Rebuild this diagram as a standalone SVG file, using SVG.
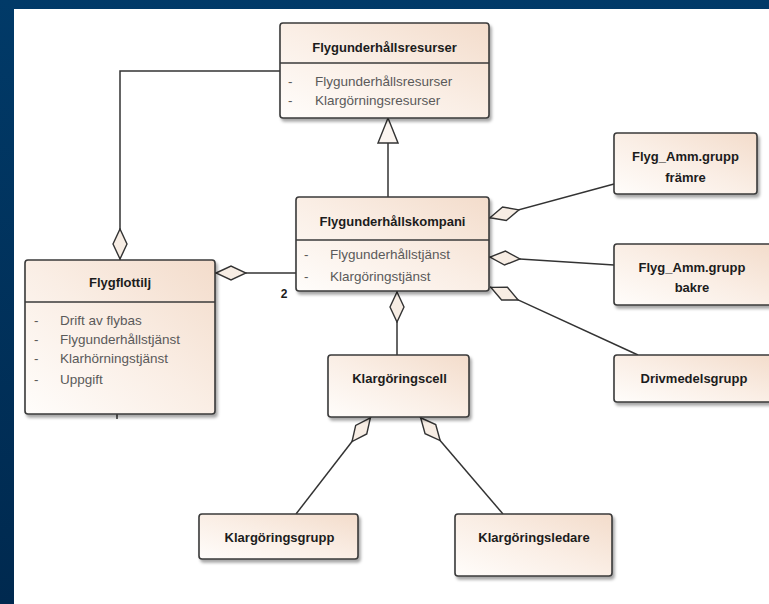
<svg xmlns="http://www.w3.org/2000/svg" width="769" height="604" viewBox="0 0 769 604">
<defs>
<linearGradient id="bg" x1="0" y1="0" x2="0" y2="1">
<stop offset="0" stop-color="#013a68"/>
<stop offset="1" stop-color="#00294f"/>
</linearGradient>
<linearGradient id="boxfill" x1="0" y1="1" x2="1" y2="0">
<stop offset="0" stop-color="#fffdfb"/>
<stop offset="0.5" stop-color="#faeee5"/>
<stop offset="1" stop-color="#f3dccb"/>
</linearGradient>
<filter id="shadow" x="-10%" y="-10%" width="130%" height="140%">
<feDropShadow dx="2" dy="3" stdDeviation="1.5" flood-color="#000" flood-opacity="0.35"/>
</filter>
<marker id="diamond" viewBox="0 0 32 16" refX="0" refY="8" markerWidth="32" markerHeight="16" markerUnits="userSpaceOnUse" orient="auto">
<path d="M1,8 L16,1 L31,8 L16,15 Z" fill="#f7ede4" stroke="#333" stroke-width="1.4"/>
</marker>
<marker id="triangle" viewBox="0 0 27 22" refX="26" refY="11" markerWidth="27" markerHeight="22" markerUnits="userSpaceOnUse" orient="auto">
<path d="M1,1 L26,11 L1,21 Z" fill="#fbf5f0" stroke="#333" stroke-width="1.4"/>
</marker>
<style>
.box{fill:url(#boxfill);stroke:#3a3a3a;stroke-width:1.6;filter:url(#shadow)}
.div{stroke:#3a3a3a;stroke-width:1.4}
.title{font-family:"Liberation Sans",Arial,sans-serif;font-size:13px;font-weight:bold;fill:#1c1c1c;text-anchor:middle}
.attr{font-family:"Liberation Sans",Arial,sans-serif;font-size:13.5px;fill:#5a5a5a}
.conn{fill:none;stroke:#333;stroke-width:1.5}
</style>
</defs>
<rect x="0" y="0" width="769" height="604" fill="url(#bg)"/>
<rect x="14" y="9" width="755" height="595" fill="#ffffff"/>

<g id="connectors">
<path class="conn" d="M120,260 L120,71 L280,71" marker-start="url(#diamond)"/>
<path class="conn" d="M388,197 L388,118" marker-end="url(#triangle)"/>
<path class="conn" d="M215,273 L296,273" marker-start="url(#diamond)"/>
<path class="conn" d="M489,218 L614,184" marker-start="url(#diamond)"/>
<path class="conn" d="M489,257 L614,265" marker-start="url(#diamond)"/>
<path class="conn" d="M490,287 L638,355" marker-start="url(#diamond)"/>
<path class="conn" d="M397,291 L397,355" marker-start="url(#diamond)"/>
<path class="conn" d="M371,417 L296,514" marker-start="url(#diamond)"/>
<path class="conn" d="M420,417 L503,514" marker-start="url(#diamond)"/>
<path class="conn" d="M117,414 L117,419" stroke-width="1"/>
<text x="284" y="298" class="title" style="font-size:12px">2</text>
</g>

<g id="flygunderhallsresurser">
<rect class="box" x="280" y="23" width="209" height="95" rx="3"/>
<line class="div" x1="280" y1="63" x2="489" y2="63"/>
<text class="title" x="384.5" y="52">Flygunderhållsresurser</text>
<text class="attr" x="288" y="86">-</text>
<text class="attr" x="315" y="86">Flygunderhållsresurser</text>
<text class="attr" x="288" y="105">-</text>
<text class="attr" x="315" y="105">Klargörningsresurser</text>
</g>

<g id="flygflottilj">
<rect class="box" x="25" y="260" width="190" height="154" rx="3"/>
<line class="div" x1="25" y1="302" x2="215" y2="302"/>
<text class="title" x="120" y="287">Flygflottilj</text>
<text class="attr" x="34" y="325">-</text>
<text class="attr" x="60" y="325">Drift av flybas</text>
<text class="attr" x="34" y="344">-</text>
<text class="attr" x="60" y="344">Flygunderhållstjänst</text>
<text class="attr" x="34" y="363">-</text>
<text class="attr" x="60" y="363">Klarhörningstjänst</text>
<text class="attr" x="34" y="384">-</text>
<text class="attr" x="60" y="384">Uppgift</text>
</g>

<g id="flygunderhallskompani">
<rect class="box" x="296" y="197" width="193" height="94" rx="3"/>
<line class="div" x1="296" y1="240" x2="489" y2="240"/>
<text class="title" x="392.5" y="226">Flygunderhållskompani</text>
<text class="attr" x="304" y="259">-</text>
<text class="attr" x="330" y="259">Flygunderhållstjänst</text>
<text class="attr" x="304" y="281">-</text>
<text class="attr" x="330" y="281">Klargöringstjänst</text>
</g>

<g id="flyg-amm-framre">
<rect class="box" x="614" y="133" width="143" height="61" rx="3"/>
<text class="title" x="685.5" y="161">Flyg_Amm.grupp</text>
<text class="title" x="685.5" y="182">främre</text>
</g>

<g id="flyg-amm-bakre">
<rect class="box" x="614" y="244" width="160" height="61" rx="3"/>
<text class="title" x="692" y="272">Flyg_Amm.grupp</text>
<text class="title" x="692" y="292">bakre</text>
</g>

<g id="drivmedelsgrupp">
<rect class="box" x="614" y="355" width="162" height="47" rx="3"/>
<text class="title" x="694" y="383">Drivmedelsgrupp</text>
</g>

<g id="klargoringscell">
<rect class="box" x="328" y="355" width="141" height="62" rx="3"/>
<text class="title" x="399.5" y="383">Klargöringscell</text>
</g>

<g id="klargoringsgrupp">
<rect class="box" x="199" y="514" width="159" height="45" rx="3"/>
<text class="title" x="279.5" y="542">Klargöringsgrupp</text>
</g>

<g id="klargoringsledare">
<rect class="box" x="455" y="514" width="157" height="62" rx="3"/>
<text class="title" x="534" y="542">Klargöringsledare</text>
</g>
</svg>
